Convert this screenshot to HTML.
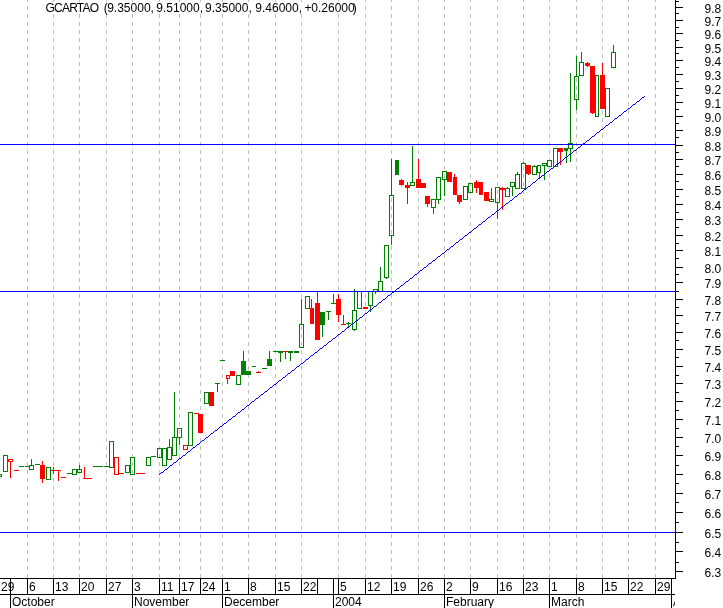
<!DOCTYPE html><html><head><meta charset="utf-8"><title>GCARTAO</title><style>html,body{margin:0;padding:0;background:#fff;overflow:hidden}svg{display:block}text{font-family:"Liberation Sans",Arial,sans-serif;font-size:12px;fill:#000}</style></head><body>
<svg width="723" height="608" viewBox="0 0 723 608" shape-rendering="crispEdges">
<rect width="723" height="608" fill="#fff"/>
<g stroke="#c0c0c0" stroke-width="1" stroke-dasharray="4 4" stroke-dashoffset="2">
<line x1="27.5" y1="0" x2="27.5" y2="578"/>
<line x1="53.5" y1="0" x2="53.5" y2="578"/>
<line x1="79.5" y1="0" x2="79.5" y2="578"/>
<line x1="106.5" y1="0" x2="106.5" y2="578"/>
<line x1="132.5" y1="0" x2="132.5" y2="578"/>
<line x1="159.5" y1="0" x2="159.5" y2="578"/>
<line x1="179.5" y1="0" x2="179.5" y2="578"/>
<line x1="200.5" y1="0" x2="200.5" y2="578"/>
<line x1="222.5" y1="0" x2="222.5" y2="578"/>
<line x1="248.5" y1="0" x2="248.5" y2="578"/>
<line x1="275.5" y1="0" x2="275.5" y2="578"/>
<line x1="301.5" y1="0" x2="301.5" y2="578"/>
<line x1="338.5" y1="0" x2="338.5" y2="578"/>
<line x1="365.5" y1="0" x2="365.5" y2="578"/>
<line x1="391.5" y1="0" x2="391.5" y2="578"/>
<line x1="418.5" y1="0" x2="418.5" y2="578"/>
<line x1="444.5" y1="0" x2="444.5" y2="578"/>
<line x1="470.5" y1="0" x2="470.5" y2="578"/>
<line x1="497.5" y1="0" x2="497.5" y2="578"/>
<line x1="523.5" y1="0" x2="523.5" y2="578"/>
<line x1="549.5" y1="0" x2="549.5" y2="578"/>
<line x1="576.5" y1="0" x2="576.5" y2="578"/>
<line x1="602.5" y1="0" x2="602.5" y2="578"/>
<line x1="628.5" y1="0" x2="628.5" y2="578"/>
<line x1="655.5" y1="0" x2="655.5" y2="578"/>
</g>
<rect x="44" y="2" width="316" height="12" fill="#fff"/>
<rect x="-2.5" y="474.5" width="4" height="2" fill="none" stroke="#008000" stroke-width="1"/>
<rect x="3.5" y="455.5" width="4" height="16" fill="none" stroke="#008000" stroke-width="1"/>
<rect x="8.5" y="459.5" width="4" height="2" fill="none" stroke="#ff0000" stroke-width="1"/>
<rect x="10" y="461" width="1" height="17" fill="#ff0000"/>
<rect x="14" y="470" width="5" height="1" fill="#ff0000"/>
<rect x="19" y="466" width="5" height="1" fill="#008000"/>
<rect x="25" y="466" width="5" height="1" fill="#008000"/>
<rect x="29.5" y="465.5" width="4" height="4" fill="none" stroke="#008000" stroke-width="1"/>
<rect x="31" y="459" width="1" height="7" fill="#008000"/>
<rect x="35" y="464" width="5" height="1" fill="#008000"/>
<rect x="40" y="465" width="5" height="14" fill="#ff0000"/>
<rect x="42" y="461" width="1" height="22" fill="#ff0000"/>
<rect x="46.5" y="467.5" width="4" height="12" fill="none" stroke="#008000" stroke-width="1"/>
<rect x="51" y="470" width="5" height="1" fill="#ff0000"/>
<rect x="53" y="467" width="1" height="7" fill="#ff0000"/>
<rect x="56" y="470" width="5" height="1" fill="#ff0000"/>
<rect x="58" y="470" width="1" height="11" fill="#ff0000"/>
<rect x="61" y="477" width="5" height="1" fill="#ff0000"/>
<rect x="67" y="473" width="5" height="1" fill="#008000"/>
<rect x="72.5" y="469.5" width="4" height="5" fill="none" stroke="#008000" stroke-width="1"/>
<rect x="77.5" y="469.5" width="4" height="3" fill="none" stroke="#008000" stroke-width="1"/>
<rect x="79" y="465" width="1" height="5" fill="#008000"/>
<rect x="84" y="467" width="1" height="12" fill="#ff0000"/>
<rect x="83" y="478" width="9" height="1" fill="#ff0000"/>
<rect x="93" y="466" width="10" height="1" fill="#008000"/>
<rect x="104" y="466" width="6" height="1" fill="#008000"/>
<rect x="109.5" y="441.5" width="4" height="26" fill="none" stroke="#008000" stroke-width="1"/>
<rect x="114.5" y="457.5" width="4" height="17" fill="none" stroke="#ff0000" stroke-width="1"/>
<rect x="119" y="473" width="5" height="1" fill="#ff0000"/>
<rect x="125.5" y="465.5" width="4" height="7" fill="none" stroke="#008000" stroke-width="1"/>
<rect x="130.5" y="457.5" width="4" height="17" fill="none" stroke="#008000" stroke-width="1"/>
<rect x="136" y="473" width="9" height="1" fill="#ff0000"/>
<rect x="146.5" y="457.5" width="4" height="8" fill="none" stroke="#008000" stroke-width="1"/>
<rect x="151" y="456" width="5" height="1" fill="#008000"/>
<rect x="157.5" y="448.5" width="4" height="9" fill="none" stroke="#008000" stroke-width="1"/>
<rect x="162.5" y="448.5" width="4" height="17" fill="none" stroke="#008000" stroke-width="1"/>
<rect x="167.5" y="447.5" width="4" height="12" fill="none" stroke="#008000" stroke-width="1"/>
<rect x="169" y="439" width="1" height="9" fill="#008000"/>
<rect x="172.5" y="437.5" width="4" height="18" fill="none" stroke="#008000" stroke-width="1"/>
<rect x="174" y="392" width="1" height="46" fill="#008000"/>
<rect x="177.5" y="428.5" width="4" height="9" fill="none" stroke="#008000" stroke-width="1"/>
<rect x="179" y="437" width="1" height="8" fill="#008000"/>
<rect x="183.5" y="445.5" width="4" height="4" fill="none" stroke="#ff0000" stroke-width="1"/>
<rect x="188.5" y="412.5" width="4" height="33" fill="none" stroke="#008000" stroke-width="1"/>
<rect x="194" y="413" width="5" height="1" fill="#ff0000"/>
<rect x="198" y="414" width="5" height="19" fill="#ff0000"/>
<rect x="204.5" y="392.5" width="4" height="11" fill="none" stroke="#008000" stroke-width="1"/>
<rect x="209" y="392" width="5" height="14" fill="#ff0000"/>
<rect x="215" y="383" width="5" height="1" fill="#008000"/>
<rect x="217" y="383" width="1" height="9" fill="#008000"/>
<rect x="220" y="360" width="5" height="1" fill="#008000"/>
<rect x="226.5" y="375.5" width="3" height="3" fill="none" stroke="#ff0000" stroke-width="1"/>
<rect x="227" y="378" width="1" height="6" fill="#ff0000"/>
<rect x="230" y="371" width="5" height="5" fill="#ff0000"/>
<rect x="236.5" y="375.5" width="4" height="9" fill="none" stroke="#008000" stroke-width="1"/>
<rect x="241" y="361" width="5" height="14" fill="#008000"/>
<rect x="243" y="351" width="1" height="11" fill="#008000"/>
<rect x="246" y="371" width="5" height="4" fill="#008000"/>
<rect x="252" y="366" width="4" height="1" fill="#008000"/>
<rect x="256" y="372" width="5" height="1" fill="#ff0000"/>
<rect x="258" y="371" width="1" height="2" fill="#ff0000"/>
<rect x="262" y="368" width="5" height="1" fill="#008000"/>
<rect x="267" y="359" width="5" height="7" fill="#008000"/>
<rect x="269" y="351" width="1" height="9" fill="#008000"/>
<rect x="273" y="351" width="5" height="1" fill="#008000"/>
<rect x="278" y="351" width="5" height="2" fill="#008000"/>
<rect x="280" y="352" width="1" height="10" fill="#008000"/>
<rect x="283" y="351" width="5" height="1" fill="#ff0000"/>
<rect x="285" y="351" width="1" height="8" fill="#ff0000"/>
<rect x="288" y="351" width="5" height="2" fill="#008000"/>
<rect x="290" y="352" width="1" height="9" fill="#008000"/>
<rect x="294" y="351" width="5" height="2" fill="#008000"/>
<rect x="299.5" y="324.5" width="4" height="23" fill="none" stroke="#008000" stroke-width="1"/>
<rect x="301" y="299" width="1" height="26" fill="#008000"/>
<rect x="305.5" y="296.5" width="4" height="12" fill="none" stroke="#008000" stroke-width="1"/>
<rect x="310" y="308" width="4" height="16" fill="#ff0000"/>
<rect x="311" y="299" width="1" height="10" fill="#ff0000"/>
<rect x="315" y="303" width="5" height="37" fill="#ff0000"/>
<rect x="317" y="291" width="1" height="13" fill="#ff0000"/>
<rect x="320" y="312" width="5" height="13" fill="#008000"/>
<rect x="322" y="324" width="1" height="13" fill="#008000"/>
<rect x="326" y="311" width="5" height="1" fill="#008000"/>
<rect x="328" y="311" width="1" height="9" fill="#008000"/>
<rect x="331" y="303" width="5" height="1" fill="#008000"/>
<rect x="333" y="294" width="1" height="10" fill="#008000"/>
<rect x="336" y="299" width="5" height="16" fill="#ff0000"/>
<rect x="338" y="294" width="1" height="28" fill="#ff0000"/>
<rect x="341" y="324" width="5" height="1" fill="#ff0000"/>
<rect x="343" y="315" width="1" height="10" fill="#ff0000"/>
<rect x="346" y="323" width="5" height="1" fill="#008000"/>
<rect x="348" y="322" width="1" height="6" fill="#008000"/>
<rect x="352.5" y="310.5" width="4" height="19" fill="none" stroke="#008000" stroke-width="1"/>
<rect x="354" y="289" width="1" height="22" fill="#008000"/>
<rect x="354" y="329" width="1" height="2" fill="#008000"/>
<rect x="357.5" y="291.5" width="4" height="17" fill="none" stroke="#008000" stroke-width="1"/>
<rect x="363" y="307" width="5" height="2" fill="#ff0000"/>
<rect x="368.5" y="291.5" width="4" height="14" fill="none" stroke="#008000" stroke-width="1"/>
<rect x="370" y="305" width="1" height="7" fill="#008000"/>
<rect x="373.5" y="289.5" width="4" height="2" fill="none" stroke="#008000" stroke-width="1"/>
<rect x="375" y="291" width="1" height="3" fill="#008000"/>
<rect x="378.5" y="281.5" width="4" height="10" fill="none" stroke="#008000" stroke-width="1"/>
<rect x="380" y="267" width="1" height="15" fill="#008000"/>
<rect x="384.5" y="245.5" width="4" height="32" fill="none" stroke="#008000" stroke-width="1"/>
<rect x="386" y="277" width="1" height="2" fill="#008000"/>
<rect x="389.5" y="195.5" width="4" height="40" fill="none" stroke="#008000" stroke-width="1"/>
<rect x="391" y="159" width="1" height="37" fill="#008000"/>
<rect x="391" y="235" width="1" height="10" fill="#008000"/>
<rect x="395" y="160" width="4" height="15" fill="#008000"/>
<rect x="399" y="180" width="5" height="5" fill="#ff0000"/>
<rect x="401" y="179" width="1" height="7" fill="#ff0000"/>
<rect x="405" y="185" width="5" height="3" fill="#ff0000"/>
<rect x="407" y="182" width="1" height="22" fill="#ff0000"/>
<rect x="410.5" y="182.5" width="4" height="3" fill="none" stroke="#008000" stroke-width="1"/>
<rect x="412" y="146" width="1" height="37" fill="#008000"/>
<rect x="416" y="179" width="5" height="9" fill="#ff0000"/>
<rect x="418" y="159" width="1" height="21" fill="#ff0000"/>
<rect x="421" y="183" width="5" height="5" fill="#ff0000"/>
<rect x="425" y="196" width="5" height="8" fill="#ff0000"/>
<rect x="427" y="203" width="1" height="4" fill="#ff0000"/>
<rect x="431.5" y="199.5" width="4" height="8" fill="none" stroke="#008000" stroke-width="1"/>
<rect x="433" y="207" width="1" height="7" fill="#008000"/>
<rect x="436.5" y="177.5" width="4" height="22" fill="none" stroke="#008000" stroke-width="1"/>
<rect x="438" y="199" width="1" height="5" fill="#008000"/>
<rect x="442.5" y="171.5" width="4" height="8" fill="none" stroke="#008000" stroke-width="1"/>
<rect x="444" y="179" width="1" height="17" fill="#008000"/>
<rect x="447" y="172" width="5" height="10" fill="#ff0000"/>
<rect x="453" y="177" width="4" height="18" fill="#ff0000"/>
<rect x="454" y="174" width="1" height="4" fill="#ff0000"/>
<rect x="457" y="195" width="5" height="7" fill="#ff0000"/>
<rect x="459" y="201" width="1" height="3" fill="#ff0000"/>
<rect x="463.5" y="186.5" width="4" height="13" fill="none" stroke="#008000" stroke-width="1"/>
<rect x="468.5" y="183.5" width="4" height="9" fill="none" stroke="#008000" stroke-width="1"/>
<rect x="474" y="182" width="5" height="6" fill="#ff0000"/>
<rect x="476" y="180" width="1" height="13" fill="#ff0000"/>
<rect x="479" y="182" width="4" height="13" fill="#ff0000"/>
<rect x="484" y="192" width="5" height="9" fill="#ff0000"/>
<rect x="489.5" y="199.5" width="4" height="2" fill="none" stroke="#008000" stroke-width="1"/>
<rect x="491" y="188" width="1" height="12" fill="#008000"/>
<rect x="495.5" y="187.5" width="4" height="15" fill="none" stroke="#008000" stroke-width="1"/>
<rect x="497" y="202" width="1" height="17" fill="#008000"/>
<rect x="500" y="188" width="5" height="2" fill="#ff0000"/>
<rect x="502" y="187" width="1" height="23" fill="#ff0000"/>
<rect x="505.5" y="188.5" width="4" height="8" fill="none" stroke="#008000" stroke-width="1"/>
<rect x="507" y="187" width="1" height="2" fill="#008000"/>
<rect x="510.5" y="182.5" width="4" height="4" fill="none" stroke="#008000" stroke-width="1"/>
<rect x="512" y="186" width="1" height="10" fill="#008000"/>
<rect x="515.5" y="174.5" width="4" height="14" fill="none" stroke="#008000" stroke-width="1"/>
<rect x="517" y="172" width="1" height="3" fill="#008000"/>
<rect x="521.5" y="163.5" width="4" height="25" fill="none" stroke="#008000" stroke-width="1"/>
<rect x="523" y="162" width="1" height="2" fill="#008000"/>
<rect x="526" y="165" width="5" height="9" fill="#ff0000"/>
<rect x="528" y="173" width="1" height="2" fill="#ff0000"/>
<rect x="532.5" y="166.5" width="4" height="8" fill="none" stroke="#008000" stroke-width="1"/>
<rect x="534" y="165" width="1" height="2" fill="#008000"/>
<rect x="537.5" y="165.5" width="3" height="7" fill="none" stroke="#008000" stroke-width="1"/>
<rect x="539" y="172" width="1" height="6" fill="#008000"/>
<rect x="542.5" y="163.5" width="4" height="2" fill="none" stroke="#008000" stroke-width="1"/>
<rect x="544" y="165" width="1" height="15" fill="#008000"/>
<rect x="547.5" y="160.5" width="4" height="6" fill="none" stroke="#008000" stroke-width="1"/>
<rect x="553.5" y="148.5" width="4" height="18" fill="none" stroke="#008000" stroke-width="1"/>
<rect x="558" y="148" width="5" height="4" fill="#ff0000"/>
<rect x="560" y="151" width="1" height="14" fill="#ff0000"/>
<rect x="564" y="148" width="4" height="3" fill="#008000"/>
<rect x="566" y="150" width="1" height="13" fill="#008000"/>
<rect x="568.5" y="143.5" width="4" height="5" fill="none" stroke="#008000" stroke-width="1"/>
<rect x="570" y="73" width="1" height="71" fill="#008000"/>
<rect x="570" y="148" width="1" height="14" fill="#008000"/>
<rect x="574.5" y="76.5" width="4" height="23" fill="none" stroke="#008000" stroke-width="1"/>
<rect x="576" y="56" width="1" height="21" fill="#008000"/>
<rect x="576" y="99" width="1" height="11" fill="#008000"/>
<rect x="579.5" y="62.5" width="4" height="13" fill="none" stroke="#008000" stroke-width="1"/>
<rect x="581" y="52" width="1" height="11" fill="#008000"/>
<rect x="585" y="63" width="5" height="3" fill="#ff0000"/>
<rect x="587" y="62" width="1" height="5" fill="#ff0000"/>
<rect x="590" y="66" width="5" height="47" fill="#ff0000"/>
<rect x="592" y="112" width="1" height="2" fill="#ff0000"/>
<rect x="595.5" y="75.5" width="3" height="41" fill="none" stroke="#008000" stroke-width="1"/>
<rect x="600" y="75" width="5" height="34" fill="#ff0000"/>
<rect x="602" y="63" width="1" height="13" fill="#ff0000"/>
<rect x="605.5" y="88.5" width="4" height="28" fill="none" stroke="#008000" stroke-width="1"/>
<rect x="611.5" y="52.5" width="4" height="15" fill="none" stroke="#008000" stroke-width="1"/>
<rect x="613" y="45" width="1" height="8" fill="#008000"/>
<rect x="0" y="144" width="675" height="1" fill="#0000ff"/>
<rect x="0" y="291" width="675" height="1" fill="#0000ff"/>
<rect x="0" y="532" width="675" height="1" fill="#0000ff"/>
<path d="M159 474h1v1h-1zM160 473h1v1h-1zM161 472h2v1h-2zM163 471h1v1h-1zM164 470h1v1h-1zM165 469h2v1h-2zM167 468h1v1h-1zM168 467h1v1h-1zM169 466h1v1h-1zM170 465h2v1h-2zM172 464h1v1h-1zM173 463h1v1h-1zM174 462h2v1h-2zM176 461h1v1h-1zM177 460h1v1h-1zM178 459h1v1h-1zM179 458h2v1h-2zM181 457h1v1h-1zM182 456h1v1h-1zM183 455h2v1h-2zM185 454h1v1h-1zM186 453h1v1h-1zM187 452h1v1h-1zM188 451h2v1h-2zM190 450h1v1h-1zM191 449h1v1h-1zM192 448h1v1h-1zM193 447h2v1h-2zM195 446h1v1h-1zM196 445h1v1h-1zM197 444h2v1h-2zM199 443h1v1h-1zM200 442h1v1h-1zM201 441h1v1h-1zM202 440h2v1h-2zM204 439h1v1h-1zM205 438h1v1h-1zM206 437h2v1h-2zM208 436h1v1h-1zM209 435h1v1h-1zM210 434h1v1h-1zM211 433h2v1h-2zM213 432h1v1h-1zM214 431h1v1h-1zM215 430h2v1h-2zM217 429h1v1h-1zM218 428h1v1h-1zM219 427h1v1h-1zM220 426h2v1h-2zM222 425h1v1h-1zM223 424h1v1h-1zM224 423h2v1h-2zM226 422h1v1h-1zM227 421h1v1h-1zM228 420h1v1h-1zM229 419h2v1h-2zM231 418h1v1h-1zM232 417h1v1h-1zM233 416h2v1h-2zM235 415h1v1h-1zM236 414h1v1h-1zM237 413h1v1h-1zM238 412h2v1h-2zM240 411h1v1h-1zM241 410h1v1h-1zM242 409h2v1h-2zM244 408h1v1h-1zM245 407h1v1h-1zM246 406h1v1h-1zM247 405h2v1h-2zM249 404h1v1h-1zM250 403h1v1h-1zM251 402h1v1h-1zM252 401h2v1h-2zM254 400h1v1h-1zM255 399h1v1h-1zM256 398h2v1h-2zM258 397h1v1h-1zM259 396h1v1h-1zM260 395h1v1h-1zM261 394h2v1h-2zM263 393h1v1h-1zM264 392h1v1h-1zM265 391h2v1h-2zM267 390h1v1h-1zM268 389h1v1h-1zM269 388h1v1h-1zM270 387h2v1h-2zM272 386h1v1h-1zM273 385h1v1h-1zM274 384h2v1h-2zM276 383h1v1h-1zM277 382h1v1h-1zM278 381h1v1h-1zM279 380h2v1h-2zM281 379h1v1h-1zM282 378h1v1h-1zM283 377h2v1h-2zM285 376h1v1h-1zM286 375h1v1h-1zM287 374h1v1h-1zM288 373h2v1h-2zM290 372h1v1h-1zM291 371h1v1h-1zM292 370h2v1h-2zM294 369h1v1h-1zM295 368h1v1h-1zM296 367h1v1h-1zM297 366h2v1h-2zM299 365h1v1h-1zM300 364h1v1h-1zM301 363h2v1h-2zM303 362h1v1h-1zM304 361h1v1h-1zM305 360h1v1h-1zM306 359h2v1h-2zM308 358h1v1h-1zM309 357h1v1h-1zM310 356h1v1h-1zM311 355h2v1h-2zM313 354h1v1h-1zM314 353h1v1h-1zM315 352h2v1h-2zM317 351h1v1h-1zM318 350h1v1h-1zM319 349h1v1h-1zM320 348h2v1h-2zM322 347h1v1h-1zM323 346h1v1h-1zM324 345h2v1h-2zM326 344h1v1h-1zM327 343h1v1h-1zM328 342h1v1h-1zM329 341h2v1h-2zM331 340h1v1h-1zM332 339h1v1h-1zM333 338h2v1h-2zM335 337h1v1h-1zM336 336h1v1h-1zM337 335h1v1h-1zM338 334h2v1h-2zM340 333h1v1h-1zM341 332h1v1h-1zM342 331h2v1h-2zM344 330h1v1h-1zM345 329h1v1h-1zM346 328h1v1h-1zM347 327h2v1h-2zM349 326h1v1h-1zM350 325h1v1h-1zM351 324h2v1h-2zM353 323h1v1h-1zM354 322h1v1h-1zM355 321h1v1h-1zM356 320h2v1h-2zM358 319h1v1h-1zM359 318h1v1h-1zM360 317h2v1h-2zM362 316h1v1h-1zM363 315h1v1h-1zM364 314h1v1h-1zM365 313h2v1h-2zM367 312h1v1h-1zM368 311h1v1h-1zM369 310h1v1h-1zM370 309h2v1h-2zM372 308h1v1h-1zM373 307h1v1h-1zM374 306h2v1h-2zM376 305h1v1h-1zM377 304h1v1h-1zM378 303h1v1h-1zM379 302h2v1h-2zM381 301h1v1h-1zM382 300h1v1h-1zM383 299h2v1h-2zM385 298h1v1h-1zM386 297h1v1h-1zM387 296h1v1h-1zM388 295h2v1h-2zM390 294h1v1h-1zM391 293h1v1h-1zM392 292h2v1h-2zM394 291h1v1h-1zM395 290h1v1h-1zM396 289h1v1h-1zM397 288h2v1h-2zM399 287h1v1h-1zM400 286h1v1h-1zM401 285h2v1h-2zM403 284h1v1h-1zM404 283h1v1h-1zM405 282h1v1h-1zM406 281h2v1h-2zM408 280h1v1h-1zM409 279h1v1h-1zM410 278h2v1h-2zM412 277h1v1h-1zM413 276h1v1h-1zM414 275h1v1h-1zM415 274h2v1h-2zM417 273h1v1h-1zM418 272h1v1h-1zM419 271h1v1h-1zM420 270h2v1h-2zM422 269h1v1h-1zM423 268h1v1h-1zM424 267h2v1h-2zM426 266h1v1h-1zM427 265h1v1h-1zM428 264h1v1h-1zM429 263h2v1h-2zM431 262h1v1h-1zM432 261h1v1h-1zM433 260h2v1h-2zM435 259h1v1h-1zM436 258h1v1h-1zM437 257h1v1h-1zM438 256h2v1h-2zM440 255h1v1h-1zM441 254h1v1h-1zM442 253h2v1h-2zM444 252h1v1h-1zM445 251h1v1h-1zM446 250h1v1h-1zM447 249h2v1h-2zM449 248h1v1h-1zM450 247h1v1h-1zM451 246h2v1h-2zM453 245h1v1h-1zM454 244h1v1h-1zM455 243h1v1h-1zM456 242h2v1h-2zM458 241h1v1h-1zM459 240h1v1h-1zM460 239h2v1h-2zM462 238h1v1h-1zM463 237h1v1h-1zM464 236h1v1h-1zM465 235h2v1h-2zM467 234h1v1h-1zM468 233h1v1h-1zM469 232h2v1h-2zM471 231h1v1h-1zM472 230h1v1h-1zM473 229h1v1h-1zM474 228h2v1h-2zM476 227h1v1h-1zM477 226h1v1h-1zM478 225h1v1h-1zM479 224h2v1h-2zM481 223h1v1h-1zM482 222h1v1h-1zM483 221h2v1h-2zM485 220h1v1h-1zM486 219h1v1h-1zM487 218h1v1h-1zM488 217h2v1h-2zM490 216h1v1h-1zM491 215h1v1h-1zM492 214h2v1h-2zM494 213h1v1h-1zM495 212h1v1h-1zM496 211h1v1h-1zM497 210h2v1h-2zM499 209h1v1h-1zM500 208h1v1h-1zM501 207h2v1h-2zM503 206h1v1h-1zM504 205h1v1h-1zM505 204h1v1h-1zM506 203h2v1h-2zM508 202h1v1h-1zM509 201h1v1h-1zM510 200h2v1h-2zM512 199h1v1h-1zM513 198h1v1h-1zM514 197h1v1h-1zM515 196h2v1h-2zM517 195h1v1h-1zM518 194h1v1h-1zM519 193h2v1h-2zM521 192h1v1h-1zM522 191h1v1h-1zM523 190h1v1h-1zM524 189h2v1h-2zM526 188h1v1h-1zM527 187h1v1h-1zM528 186h2v1h-2zM530 185h1v1h-1zM531 184h1v1h-1zM532 183h1v1h-1zM533 182h2v1h-2zM535 181h1v1h-1zM536 180h1v1h-1zM537 179h1v1h-1zM538 178h2v1h-2zM540 177h1v1h-1zM541 176h1v1h-1zM542 175h2v1h-2zM544 174h1v1h-1zM545 173h1v1h-1zM546 172h1v1h-1zM547 171h2v1h-2zM549 170h1v1h-1zM550 169h1v1h-1zM551 168h2v1h-2zM553 167h1v1h-1zM554 166h1v1h-1zM555 165h1v1h-1zM556 164h2v1h-2zM558 163h1v1h-1zM559 162h1v1h-1zM560 161h2v1h-2zM562 160h1v1h-1zM563 159h1v1h-1zM564 158h1v1h-1zM565 157h2v1h-2zM567 156h1v1h-1zM568 155h1v1h-1zM569 154h2v1h-2zM571 153h1v1h-1zM572 152h1v1h-1zM573 151h1v1h-1zM574 150h2v1h-2zM576 149h1v1h-1zM577 148h1v1h-1zM578 147h2v1h-2zM580 146h1v1h-1zM581 145h1v1h-1zM582 144h1v1h-1zM583 143h2v1h-2zM585 142h1v1h-1zM586 141h1v1h-1zM587 140h2v1h-2zM589 139h1v1h-1zM590 138h1v1h-1zM591 137h1v1h-1zM592 136h2v1h-2zM594 135h1v1h-1zM595 134h1v1h-1zM596 133h1v1h-1zM597 132h2v1h-2zM599 131h1v1h-1zM600 130h1v1h-1zM601 129h2v1h-2zM603 128h1v1h-1zM604 127h1v1h-1zM605 126h1v1h-1zM606 125h2v1h-2zM608 124h1v1h-1zM609 123h1v1h-1zM610 122h2v1h-2zM612 121h1v1h-1zM613 120h1v1h-1zM614 119h1v1h-1zM615 118h2v1h-2zM617 117h1v1h-1zM618 116h1v1h-1zM619 115h2v1h-2zM621 114h1v1h-1zM622 113h1v1h-1zM623 112h1v1h-1zM624 111h2v1h-2zM626 110h1v1h-1zM627 109h1v1h-1zM628 108h2v1h-2zM630 107h1v1h-1zM631 106h1v1h-1zM632 105h1v1h-1zM633 104h2v1h-2zM635 103h1v1h-1zM636 102h1v1h-1zM637 101h2v1h-2zM639 100h1v1h-1zM640 99h1v1h-1zM641 98h1v1h-1zM642 97h2v1h-2zM644 96h1v1h-1z" fill="#0000ff"/>
<g fill="#000">
<rect x="675" y="0" width="1" height="579"/>
<rect x="0" y="578" width="676" height="1"/>
<rect x="0" y="594" width="675" height="1"/>
<rect x="676" y="571" width="7" height="1"/>
<rect x="676" y="562" width="3" height="1"/>
<rect x="676" y="551" width="7" height="1"/>
<rect x="676" y="542" width="3" height="1"/>
<rect x="676" y="532" width="7" height="1"/>
<rect x="676" y="522" width="3" height="1"/>
<rect x="676" y="512" width="7" height="1"/>
<rect x="676" y="502" width="3" height="1"/>
<rect x="676" y="493" width="7" height="1"/>
<rect x="676" y="483" width="3" height="1"/>
<rect x="676" y="474" width="7" height="1"/>
<rect x="676" y="465" width="3" height="1"/>
<rect x="676" y="455" width="7" height="1"/>
<rect x="676" y="446" width="3" height="1"/>
<rect x="676" y="437" width="7" height="1"/>
<rect x="676" y="428" width="3" height="1"/>
<rect x="676" y="419" width="7" height="1"/>
<rect x="676" y="410" width="3" height="1"/>
<rect x="676" y="401" width="7" height="1"/>
<rect x="676" y="392" width="3" height="1"/>
<rect x="676" y="383" width="7" height="1"/>
<rect x="676" y="375" width="3" height="1"/>
<rect x="676" y="366" width="7" height="1"/>
<rect x="676" y="357" width="3" height="1"/>
<rect x="676" y="349" width="7" height="1"/>
<rect x="676" y="340" width="3" height="1"/>
<rect x="676" y="332" width="7" height="1"/>
<rect x="676" y="323" width="3" height="1"/>
<rect x="676" y="315" width="7" height="1"/>
<rect x="676" y="307" width="3" height="1"/>
<rect x="676" y="299" width="7" height="1"/>
<rect x="676" y="291" width="3" height="1"/>
<rect x="676" y="282" width="7" height="1"/>
<rect x="676" y="274" width="3" height="1"/>
<rect x="676" y="267" width="7" height="1"/>
<rect x="676" y="258" width="3" height="1"/>
<rect x="676" y="250" width="7" height="1"/>
<rect x="676" y="243" width="3" height="1"/>
<rect x="676" y="235" width="7" height="1"/>
<rect x="676" y="227" width="3" height="1"/>
<rect x="676" y="219" width="7" height="1"/>
<rect x="676" y="212" width="3" height="1"/>
<rect x="676" y="204" width="7" height="1"/>
<rect x="676" y="196" width="3" height="1"/>
<rect x="676" y="189" width="7" height="1"/>
<rect x="676" y="181" width="3" height="1"/>
<rect x="676" y="174" width="7" height="1"/>
<rect x="676" y="166" width="3" height="1"/>
<rect x="676" y="159" width="7" height="1"/>
<rect x="676" y="152" width="3" height="1"/>
<rect x="676" y="145" width="7" height="1"/>
<rect x="676" y="137" width="3" height="1"/>
<rect x="676" y="130" width="7" height="1"/>
<rect x="676" y="123" width="3" height="1"/>
<rect x="676" y="116" width="7" height="1"/>
<rect x="676" y="109" width="3" height="1"/>
<rect x="676" y="102" width="7" height="1"/>
<rect x="676" y="95" width="3" height="1"/>
<rect x="676" y="88" width="7" height="1"/>
<rect x="676" y="81" width="3" height="1"/>
<rect x="676" y="74" width="7" height="1"/>
<rect x="676" y="67" width="3" height="1"/>
<rect x="676" y="60" width="7" height="1"/>
<rect x="676" y="53" width="3" height="1"/>
<rect x="676" y="47" width="7" height="1"/>
<rect x="676" y="40" width="3" height="1"/>
<rect x="676" y="33" width="7" height="1"/>
<rect x="676" y="27" width="3" height="1"/>
<rect x="676" y="20" width="7" height="1"/>
<rect x="676" y="13" width="3" height="1"/>
<rect x="676" y="7" width="7" height="1"/>
<rect x="676" y="1" width="3" height="1"/>
<rect x="27" y="578" width="1" height="17"/>
<rect x="53" y="578" width="1" height="17"/>
<rect x="79" y="578" width="1" height="17"/>
<rect x="106" y="578" width="1" height="17"/>
<rect x="132" y="578" width="1" height="17"/>
<rect x="159" y="578" width="1" height="17"/>
<rect x="179" y="578" width="1" height="17"/>
<rect x="200" y="578" width="1" height="17"/>
<rect x="222" y="578" width="1" height="17"/>
<rect x="248" y="578" width="1" height="17"/>
<rect x="275" y="578" width="1" height="17"/>
<rect x="301" y="578" width="1" height="17"/>
<rect x="317" y="578" width="1" height="17"/>
<rect x="338" y="578" width="1" height="17"/>
<rect x="365" y="578" width="1" height="17"/>
<rect x="391" y="578" width="1" height="17"/>
<rect x="418" y="578" width="1" height="17"/>
<rect x="444" y="578" width="1" height="17"/>
<rect x="470" y="578" width="1" height="17"/>
<rect x="497" y="578" width="1" height="17"/>
<rect x="523" y="578" width="1" height="17"/>
<rect x="549" y="578" width="1" height="17"/>
<rect x="576" y="578" width="1" height="17"/>
<rect x="602" y="578" width="1" height="17"/>
<rect x="628" y="578" width="1" height="17"/>
<rect x="655" y="578" width="1" height="17"/>
<rect x="10" y="578" width="1" height="30"/>
<rect x="132" y="578" width="1" height="30"/>
<rect x="222" y="578" width="1" height="30"/>
<rect x="333" y="578" width="1" height="30"/>
<rect x="444" y="578" width="1" height="30"/>
<rect x="549" y="578" width="1" height="30"/>
<rect x="671" y="578" width="1" height="30"/>
</g>
<text x="704.5" y="577">6.3</text>
<text x="704.5" y="557">6.4</text>
<text x="704.5" y="538">6.5</text>
<text x="704.5" y="518">6.6</text>
<text x="704.5" y="499">6.7</text>
<text x="704.5" y="480">6.8</text>
<text x="704.5" y="461">6.9</text>
<text x="704.5" y="443">7.0</text>
<text x="704.5" y="425">7.1</text>
<text x="704.5" y="407">7.2</text>
<text x="704.5" y="389">7.3</text>
<text x="704.5" y="372">7.4</text>
<text x="704.5" y="355">7.5</text>
<text x="704.5" y="338">7.6</text>
<text x="704.5" y="321">7.7</text>
<text x="704.5" y="305">7.8</text>
<text x="704.5" y="288">7.9</text>
<text x="704.5" y="273">8.0</text>
<text x="704.5" y="256">8.1</text>
<text x="704.5" y="241">8.2</text>
<text x="704.5" y="225">8.3</text>
<text x="704.5" y="210">8.4</text>
<text x="704.5" y="195">8.5</text>
<text x="704.5" y="180">8.6</text>
<text x="704.5" y="165">8.7</text>
<text x="704.5" y="151">8.8</text>
<text x="704.5" y="136">8.9</text>
<text x="704.5" y="122">9.0</text>
<text x="704.5" y="108">9.1</text>
<text x="704.5" y="94">9.2</text>
<text x="704.5" y="80">9.3</text>
<text x="704.5" y="66">9.4</text>
<text x="704.5" y="53">9.5</text>
<text x="704.5" y="39">9.6</text>
<text x="704.5" y="26">9.7</text>
<text x="704.5" y="13">9.8</text>
<text x="1" y="591">29</text>
<text x="29" y="591">6</text>
<text x="55" y="591">13</text>
<text x="81" y="591">20</text>
<text x="108" y="591">27</text>
<text x="134" y="591">3</text>
<text x="161" y="591">11</text>
<text x="181" y="591">17</text>
<text x="202" y="591">24</text>
<text x="224" y="591">1</text>
<text x="250" y="591">8</text>
<text x="277" y="591">15</text>
<text x="303" y="591">22</text>
<text x="340" y="591">5</text>
<text x="367" y="591">12</text>
<text x="393" y="591">19</text>
<text x="420" y="591">26</text>
<text x="446" y="591">2</text>
<text x="472" y="591">9</text>
<text x="499" y="591">16</text>
<text x="525" y="591">23</text>
<text x="551" y="591">1</text>
<text x="578" y="591">8</text>
<text x="604" y="591">15</text>
<text x="630" y="591">22</text>
<text x="657" y="591">29</text>
<text x="12" y="606">October</text>
<text x="134" y="606">November</text>
<text x="224" y="606">December</text>
<text x="335" y="606">2004</text>
<text x="446" y="606">February</text>
<text x="551" y="606">March</text>
<svg x="672" y="595" width="3" height="13" overflow="hidden"><text x="1" y="11">April</text></svg>
<g style="font-size:12px"><text x="45.5" y="12" textLength="53.5" lengthAdjust="spacing">GCARTAO</text>
<text x="103.7" y="12">(</text>
<text x="107.2" y="12">9.35000,</text>
<text x="156.35" y="12">9.51000,</text>
<text x="205.1" y="12">9.35000,</text>
<text x="255.3" y="12">9.46000,</text>
<text x="304.6" y="12">+</text>
<text x="311.3" y="12">0.26000</text>
<text x="352.8" y="12">)</text>
</g>
</svg></body></html>
